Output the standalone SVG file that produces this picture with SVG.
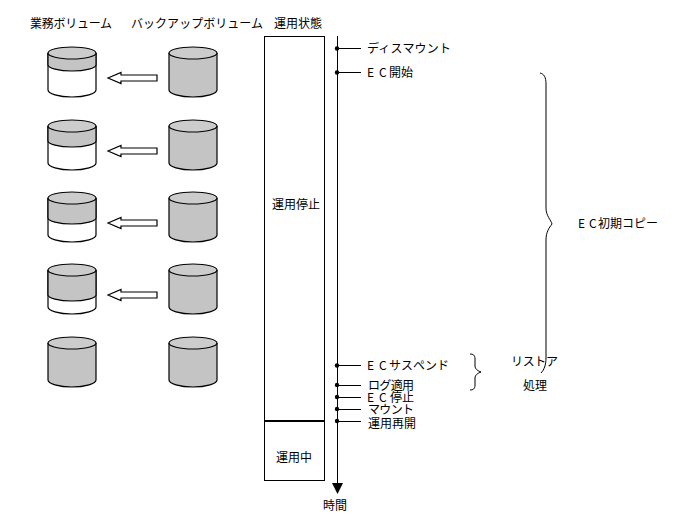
<svg xmlns="http://www.w3.org/2000/svg" width="681" height="517" viewBox="0 0 681 517">
<style>
text{font-family:"Noto Sans CJK JP","Liberation Sans",sans-serif;font-size:12px;fill:#000}
.o{fill:none;stroke:#000;stroke-width:1}
.w{fill:#fff;stroke:#000;stroke-width:1.2}
.g{fill:#c4c4c4;stroke:#000;stroke-width:1.2}
.t{fill:#ccc;stroke:#000;stroke-width:1.2}
.l{stroke:#000;stroke-width:1;fill:none}
</style>
<defs>
<g id="cylfull"><path class="g" d="M0 0V37C0 40.500 10.700 44 24 44S48 40.500 48 37V0"/><ellipse class="t" cx="24" cy="0" rx="24" ry="6"/></g>
<g id="cylempty"><path class="w" d="M0 0V37C0 40.500 10.700 44 24 44S48 40.500 48 37V0"/></g>
<path id="arrow" class="w" d="M0 0L13-5.500V-3H49V3H13V5.500Z"/>
</defs>
<text x="30" y="28" textLength="82">業務ボリューム</text>
<text x="131" y="28" textLength="132">バックアップボリューム</text>
<text x="274" y="28" textLength="48">運用状態</text>
<g id="vol1"><use href="#cylempty" x="48" y="53"/><path class="g" d="M48 53V65C48 68 58.700 71 72 71S96 68 96 65V53"/><ellipse class="t" cx="72" cy="53" rx="24" ry="6"/></g>
<g id="backup1"><use href="#cylfull" x="169" y="53"/></g>
<g id="vol2"><use href="#cylempty" x="48" y="126"/><path class="g" d="M48 126V141C48 144 58.700 147 72 147S96 144 96 141V126"/><ellipse class="t" cx="72" cy="126" rx="24" ry="6"/></g>
<g id="backup2"><use href="#cylfull" x="169" y="126"/></g>
<g id="vol3"><use href="#cylempty" x="48" y="198"/><path class="g" d="M48 198V218C48 221 58.700 224 72 224S96 221 96 218V198"/><ellipse class="t" cx="72" cy="198" rx="24" ry="6"/></g>
<g id="backup3"><use href="#cylfull" x="169" y="198"/></g>
<g id="vol4"><use href="#cylempty" x="48" y="270"/><path class="g" d="M48 270V295C48 298 58.700 301 72 301S96 298 96 295V270"/><ellipse class="t" cx="72" cy="270" rx="24" ry="6"/></g>
<g id="backup4"><use href="#cylfull" x="169" y="270"/></g>
<g id="vol5"><use href="#cylfull" x="48" y="343"/></g>
<g id="backup5"><use href="#cylfull" x="169" y="343"/></g>
<g id="copy-arrows"><use href="#arrow" x="108" y="78"/><use href="#arrow" x="108" y="151"/><use href="#arrow" x="108" y="223"/><use href="#arrow" x="108" y="295"/></g>
<g id="status-stopped"><rect x="264.500" y="36.500" width="60" height="385" fill="#fff" stroke="#000"/><text x="272" y="209" textLength="48">運用停止</text></g>
<g id="status-running"><rect x="264.500" y="421" width="60" height="59.500" fill="#fff" stroke="#000"/><path d="M264 421H325" stroke="#000" stroke-width="2"/><text x="276" y="462" textLength="36">運用中</text></g>
<g id="connectors">
<path class="l" d="M337.500 36V484"/>
<path d="M332 483H343L337.500 494Z" fill="#000"/>
<path class="l" d="M337 48.500H361M337 72.500H361M337 365.500H361M337 385.500H361M337 397.500H361M337 409.500H361M337 421.500H361"/>
<g fill="#000"><circle cx="337" cy="48.500" r="2.200"/><circle cx="337" cy="72.500" r="2.200"/><circle cx="337" cy="365.500" r="2.200"/><circle cx="337" cy="385" r="2.200"/><circle cx="337" cy="397" r="2.200"/><circle cx="337" cy="409" r="2.200"/><circle cx="337" cy="421" r="2.200"/></g>
<path class="o" d="M540 73C544 74 546 77 546 84V208C546 216 551 220 552 224C549 228 546 232 546 240V358C546 365 544 370 541 373"/>
<path class="o" d="M470 354C473 354 475 355 475 359V366C475 369 478 371 481 372C478 373 475 375 475 378V385C475 389 473 390 470 390"/>
</g>
<g id="labels">
<text x="367" y="53" textLength="84">ディスマウント</text>
<text x="367 379 389 401" y="77">EC開始</text>
<text x="367 379 389 401 413 425 437" y="370">ECサスペンド</text>
<text x="368" y="390" textLength="46">ログ適用</text>
<text x="367 379 390 402" y="402">EC停止</text>
<text x="368" y="414" textLength="46">マウント</text>
<text x="368" y="428" textLength="48">運用再開</text>
<text x="323" y="510" textLength="24">時間</text>
<text x="511" y="366" textLength="47">リストア</text>
<text x="523" y="390" textLength="24">処理</text>
<text x="578 589 598 610 622 634 646" y="228">EC初期コピー</text>
</g>
</svg>
